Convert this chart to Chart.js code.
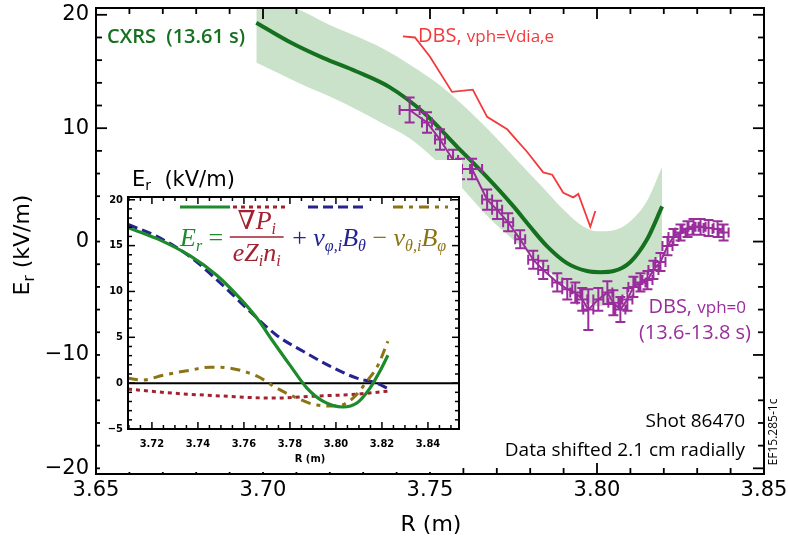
<!DOCTYPE html>
<html>
<head>
<meta charset="utf-8">
<title>Er profile</title>
<script src="https://cdn.jsdelivr.net/npm/chart.js@4.4.1/dist/chart.umd.min.js"></script>
<style>
    html, body { margin: 0; padding: 0; background: #fff; }
    #wrap { position: relative; width: 788px; height: 541px; }
    #main { position: absolute; left: 0; top: 0; }
    #mainTicks { position: absolute; left: 0; top: 0; }
    #inset { position: absolute; left: 100px; top: 160px; background: #fff; }
    #insetTicks { position: absolute; left: 100px; top: 160px; }
</style>
</head>
<body>
<div id="wrap">
    <canvas id="main" width="788" height="541"></canvas>
    <svg id="mainTicks" width="788" height="541" xmlns="http://www.w3.org/2000/svg"></svg>
    <canvas id="inset" width="362" height="312"></canvas>
    <svg id="insetTicks" width="362" height="312" xmlns="http://www.w3.org/2000/svg"></svg>
</div>
<script>
"use strict";

// ---- main panel data: R (m) vs Er (kV/m) ----
var cxrsR  = [3.698, 3.708, 3.718, 3.728, 3.738, 3.748, 3.758, 3.767, 3.775, 3.780, 3.785, 3.791, 3.797, 3.801, 3.805, 3.810, 3.815, 3.8195];
var cxrsEr = [19.3, 17.6, 16.2, 15.0, 13.6, 11.4, 8.4, 5.7, 3.1, 1.3, -0.4, -1.9, -2.6, -2.7, -2.6, -1.8, 0.2, 3.1];

// CXRS uncertainty band
var bandR  = [3.698, 3.705, 3.712, 3.720, 3.728, 3.736, 3.744, 3.752, 3.760, 3.768, 3.776, 3.784, 3.790, 3.796, 3.800, 3.805, 3.810, 3.815, 3.8195];
var bandHi = [22.2, 21.2, 20.3, 19.1, 18.1, 17.0, 15.6, 14.0, 12.0, 9.7, 7.2, 4.7, 2.8, 1.3, 0.9, 1.0, 1.8, 3.6, 6.6];
var bandLo = [15.8, 14.8, 13.8, 12.8, 11.65, 10.4, 9.1, 7.1, 4.6, 2.0, -0.1, -2.2, -3.7, -5.0, -5.7, -5.4, -4.3, -2.8, -0.9];

// DBS with v_ph = V_dia,e
var diaR  = [3.7419, 3.7455, 3.7500, 3.7566, 3.7628, 3.7671, 3.7731, 3.7791, 3.7839, 3.7866, 3.7899, 3.7929, 3.7944, 3.7980, 3.7995];
var diaEr = [18.1, 18.0, 16.3, 13.2, 13.4, 11.0, 9.9, 7.9, 6.1, 5.9, 4.3, 3.9, 4.2, 1.3, 2.7];

// DBS with v_ph = 0, with error bars
var dbsR  = [3.7439, 3.7491, 3.7530, 3.7569, 3.7590, 3.7626, 3.7671, 3.7701, 3.7734, 3.7770, 3.7809, 3.7839,
             3.7881, 3.7911, 3.7935, 3.7956, 3.7974, 3.8004, 3.8031, 3.8049, 3.8070, 3.8091, 3.8109, 3.8130,
             3.8151, 3.8169, 3.8190, 3.8211, 3.8229, 3.8250, 3.8271, 3.8289, 3.8310, 3.8334, 3.8361, 3.8379];
var dbsEr = [11.6, 10.5, 9.0, 7.2, 6.4, 6.4, 3.7, 2.8, 1.7, 0.2, -1.6, -2.5,
             -3.6, -4.2, -4.5, -5.1, -6.0, -5.1, -4.5, -5.4, -6.0, -5.1, -4.0, -3.6,
             -3.4, -2.5, -1.8, -0.4, 0.4, 0.8, 1.1, 1.3, 1.3, 1.2, 1.1, 0.8];
var dbsErrR  = [0.003, 0.0015, 0.0015, 0.0015, 0.003, 0.003, 0.0015, 0.0015, 0.0015, 0.0015, 0.0015, 0.0015,
                0.0015, 0.0015, 0.0015, 0.0015, 0.0015, 0.0015, 0.0015, 0.0015, 0.0015, 0.0015, 0.0015, 0.0015,
                0.0015, 0.0015, 0.0015, 0.0015, 0.0015, 0.0015, 0.0015, 0.0015, 0.0015, 0.0015, 0.0015, 0.0015];
var dbsErrEr = [1.1, 0.9, 0.9, 0.9, 0.9, 0.9, 0.9, 0.8, 0.8, 0.8, 0.8, 0.8,
                0.8, 0.9, 0.9, 1.0, 1.8, 1.0, 1.0, 1.1, 1.1, 1.0, 0.9, 0.8,
                0.8, 0.8, 0.8, 0.8, 0.7, 0.7, 0.7, 0.7, 0.7, 0.7, 0.7, 0.7];

var mainXRange = [3.65, 3.85];
var mainYRange = [-20.5, 20.6];
var mainXTicks = [3.65, 3.70, 3.75, 3.80, 3.85];
var mainYTicks = [-20, -10, 0, 10, 20];

// ---- inset data: Er force balance terms ----
var inErR   = [3.7096, 3.7222, 3.7365, 3.7483, 3.7583, 3.7657, 3.7726, 3.7800, 3.7874, 3.7943, 3.8030, 3.8091, 3.8148, 3.8191, 3.8226];
var inEr    = [16.96, 15.76, 13.9, 11.74, 9.24, 7.07, 4.57, 1.96, -0.54, -1.96, -2.6, -2.17, -0.54, 1.3, 3.04];
var inTorR  = [3.7096, 3.7222, 3.7365, 3.7509, 3.7626, 3.7743, 3.7857, 3.7974, 3.8091, 3.8178, 3.8222];
var inTor   = [17.3, 16.0, 13.8, 10.65, 7.83, 5.2, 3.48, 1.85, 0.54, 0.0, -0.54];
var inPolR  = [3.7096, 3.7160, 3.7248, 3.7365, 3.7452, 3.7539, 3.7657, 3.7743, 3.7830, 3.7917, 3.8004, 3.8074, 3.8135, 3.8183, 3.8226];
var inPol   = [0.54, 0.33, 0.87, 1.41, 1.74, 1.63, 0.76, -0.54, -1.63, -2.39, -2.5, -1.63, 0.22, 1.96, 4.57];
var inDiaR  = [3.7096, 3.7291, 3.7509, 3.7726, 3.7917, 3.8091, 3.8226];
var inDia   = [-0.65, -1.09, -1.41, -1.63, -1.41, -1.2, -0.87];

var insetXRange = [3.7096, 3.8535];
var insetYRange = [-5, 20.3];
var insetXTicks = [3.72, 3.74, 3.76, 3.78, 3.80, 3.82, 3.84];
var insetYTicks = [-5, 0, 5, 10, 15, 20];

// colours
var GREEN = '#15701f', BAND = '#cae2ca', RED = '#f23a3c', PURPLE = '#992d9c';
var IN_GREEN = '#1d8a2b', IN_RED = '#a3222f', IN_BLUE = '#24238f', IN_BROWN = '#8c7416';

var SANS = '"DejaVu Sans", sans-serif';
var LABEL = '"Open Sans", "Lato", sans-serif';
var SERIF = '"Liberation Serif", "DejaVu Serif", serif';

// axis box settings for each panel
var mainFrame = {
    xRange: mainXRange, yRange: mainYRange,
    xTicks: mainXTicks, yTicks: mainYTicks, xMinor: 0.01, yMinor: 2,
    major: 11, minor: 6, frameWidth: 2, tickWidth: 1.8,
    font: '21px ' + SANS, xPad: 6, yPad: 7
};
var insetFrame = {
    xRange: insetXRange, yRange: insetYRange,
    xTicks: insetXTicks, yTicks: insetYTicks, xMinor: 0.005, yMinor: 1,
    major: 7, minor: 4, frameWidth: 2, tickWidth: 1.5,
    font: 'bold 11px "DejaVu Sans Condensed", ' + SANS, xPad: 10, yPad: 5
};

function pts(xs, ys) {
    return xs.map(function (x, i) { return { x: x, y: ys[i] }; });
}

function minus(v) {
    return String(v).replace('-', '\u2212');
}

// minor tick values over a range, flagged when they hit a labelled tick
function tickList(range, step, majors) {
    var list = [];
    var k0 = Math.ceil(range[0] / step - 1e-6);
    var k1 = Math.floor(range[1] / step + 1e-6);
    for (var k = k0; k <= k1; k++) {
        var v = k * step;
        var major = false;
        for (var j = 0; j < majors.length; j++) {
            if (Math.abs(majors[j] - v) < 1e-6) major = true;
        }
        list.push({ v: v, major: major });
    }
    return list;
}

// text runs with sub-scripts: [{text, font, dy}]
function richWidth(ctx, parts) {
    var w = 0;
    parts.forEach(function (p) { ctx.font = p.font; w += ctx.measureText(p.text).width; });
    return w;
}

function drawRich(ctx, x, y, parts, color) {
    ctx.fillStyle = color;
    ctx.textAlign = 'left';
    ctx.textBaseline = 'alphabetic';
    parts.forEach(function (p) {
        ctx.font = p.font;
        ctx.fillText(p.text, x, y + (p.dy || 0));
        x += ctx.measureText(p.text).width;
    });
    return x;
}

// inward tick marks on all four sides, as svg lines over the canvas
function addTickOverlay(chart, o, svgId) {
    var svg = document.getElementById(svgId);
    var a = chart.chartArea, xs = chart.scales.x, ys = chart.scales.y;
    var ns = 'http://www.w3.org/2000/svg';

    function seg(x1, y1, x2, y2) {
        var l = document.createElementNS(ns, 'line');
        l.setAttribute('x1', x1);
        l.setAttribute('y1', y1);
        l.setAttribute('x2', x2);
        l.setAttribute('y2', y2);
        l.setAttribute('stroke', '#000');
        l.setAttribute('stroke-width', o.tickWidth);
        svg.appendChild(l);
    }

    tickList(o.xRange, o.xMinor, o.xTicks).forEach(function (tk) {
        var px = xs.getPixelForValue(tk.v);
        var len = tk.major ? o.major : o.minor;
        seg(px, a.bottom, px, a.bottom - len);
        seg(px, a.top, px, a.top + len);
    });
    tickList(o.yRange, o.yMinor, o.yTicks).forEach(function (tk) {
        var py = ys.getPixelForValue(tk.v);
        var len = tk.major ? o.major : o.minor;
        seg(a.left, py, a.left + len, py);
        seg(a.right, py, a.right - len, py);
    });
}

// box frame and tick labels
function drawFrame(chart, o) {
    var ctx = chart.ctx, a = chart.chartArea, xs = chart.scales.x, ys = chart.scales.y;
    ctx.save();
    ctx.strokeStyle = '#000';
    ctx.lineWidth = o.frameWidth;
    ctx.strokeRect(a.left, a.top, a.right - a.left, a.bottom - a.top);

    ctx.fillStyle = '#000';
    ctx.font = o.font;
    ctx.textAlign = 'center';
    ctx.textBaseline = 'top';
    o.xTicks.forEach(function (v) {
        ctx.fillText(v.toFixed(2), xs.getPixelForValue(v), a.bottom + o.xPad);
    });
    ctx.textAlign = 'right';
    ctx.textBaseline = 'middle';
    o.yTicks.forEach(function (v) {
        ctx.fillText(minus(v), a.left - o.yPad, ys.getPixelForValue(v));
    });
    ctx.restore();
}

var mainDecor = {
    id: 'mainDecor',
    afterDatasetsDraw: function (chart) {
        // DBS error bars
        var ctx = chart.ctx, xs = chart.scales.x, ys = chart.scales.y;
        ctx.save();
        ctx.strokeStyle = PURPLE;
        ctx.lineWidth = 2;
        ctx.beginPath();
        dbsR.forEach(function (r, i) {
            var px = xs.getPixelForValue(r), py = ys.getPixelForValue(dbsEr[i]);
            var x0 = xs.getPixelForValue(r - dbsErrR[i]), x1 = xs.getPixelForValue(r + dbsErrR[i]);
            var y0 = ys.getPixelForValue(dbsEr[i] - dbsErrEr[i]), y1 = ys.getPixelForValue(dbsEr[i] + dbsErrEr[i]);
            ctx.moveTo(px, y0); ctx.lineTo(px, y1);
            ctx.moveTo(px - 5, y0); ctx.lineTo(px + 5, y0);
            ctx.moveTo(px - 5, y1); ctx.lineTo(px + 5, y1);
            ctx.moveTo(x0, py); ctx.lineTo(x1, py);
            ctx.moveTo(x0, py - 5); ctx.lineTo(x0, py + 5);
            ctx.moveTo(x1, py - 5); ctx.lineTo(x1, py + 5);
        });
        ctx.stroke();
        ctx.restore();
    },
    afterDraw: function (chart) {
        var ctx = chart.ctx;
        drawFrame(chart, mainFrame);

        ctx.save();
        // axis titles
        ctx.fillStyle = '#000';
        ctx.font = '22px ' + SANS;
        ctx.textAlign = 'center';
        ctx.textBaseline = 'alphabetic';
        ctx.fillText('R (m)', 431, 531);

        var yTitle = [
            { text: 'E', font: '22px ' + SANS },
            { text: 'r', font: '15px ' + SANS, dy: 5 },
            { text: ' (kV/m)', font: '22px ' + SANS }
        ];
        ctx.save();
        ctx.translate(29, 245);
        ctx.rotate(-Math.PI / 2);
        drawRich(ctx, -richWidth(ctx, yTitle) / 2, 0, yTitle, '#000');
        ctx.restore();

        // series labels
        ctx.font = '600 20px ' + LABEL;
        ctx.fillStyle = GREEN;
        ctx.textAlign = 'left';
        ctx.fillText('CXRS  (13.61 s)', 107, 43);

        drawRich(ctx, 418, 42, [
            { text: 'DBS, ', font: '20px ' + LABEL },
            { text: 'vph=Vdia,e', font: '17px ' + LABEL }
        ], RED);

        var dbsLine = [
            { text: 'DBS, ', font: '20px ' + LABEL },
            { text: 'vph=0', font: '17px ' + LABEL }
        ];
        drawRich(ctx, 746 - richWidth(ctx, dbsLine), 313, dbsLine, PURPLE);
        ctx.font = '20px ' + LABEL;
        ctx.fillStyle = PURPLE;
        ctx.textAlign = 'right';
        ctx.fillText('(13.6-13.8 s)', 751, 339);

        ctx.fillStyle = '#000';
        ctx.font = '19px ' + LABEL;
        ctx.fillText('Shot 86470', 745, 427);
        ctx.fillText('Data shifted 2.1 cm radially', 745, 456);

        ctx.save();
        ctx.translate(777, 432);
        ctx.rotate(-Math.PI / 2);
        ctx.font = '12px ' + LABEL;
        ctx.textAlign = 'center';
        ctx.fillText('EF15.285-1c', 0, 0);
        ctx.restore();
        ctx.restore();
    }
};

var insetDecor = {
    id: 'insetDecor',
    afterDraw: function (chart) {
        var ctx = chart.ctx;
        drawFrame(chart, insetFrame);

        ctx.save();
        ctx.fillStyle = '#000';
        ctx.font = 'bold 11px "DejaVu Sans Condensed", ' + SANS;
        ctx.textAlign = 'center';
        ctx.fillText('R (m)', 210, 302);

        drawRich(ctx, 32, 26, [
            { text: 'E', font: '21px ' + SANS },
            { text: 'r', font: '14px ' + SANS, dy: 4 },
            { text: '  (kV/m)', font: '21px ' + SANS }
        ], '#000');

        // legend samples
        var samples = [
            { x0: 80, x1: 130, color: IN_GREEN, dash: [] },
            { x0: 133, x1: 187, color: IN_RED, dash: [4, 4] },
            { x0: 208, x1: 263, color: IN_BLUE, dash: [10, 5] },
            { x0: 293, x1: 348, color: IN_BROWN, dash: [10, 6, 4, 6] }
        ];
        ctx.lineWidth = 3;
        samples.forEach(function (s) {
            ctx.strokeStyle = s.color;
            ctx.setLineDash(s.dash);
            ctx.beginPath();
            ctx.moveTo(s.x0, 47);
            ctx.lineTo(s.x1, 47);
            ctx.stroke();
        });
        ctx.setLineDash([]);

        // Er = grad P / (e Z n) + v_phi B_theta - v_theta B_phi
        var it = 'italic 26px ' + SERIF, up = '26px ' + SERIF, sub = 'italic 16px ' + SERIF;
        var base = 86;
        var x = drawRich(ctx, 80, base, [
            { text: 'E', font: it },
            { text: 'r', font: sub, dy: 5 },
            { text: ' = ', font: up }
        ], IN_GREEN);

        var num = [{ text: '\u2207', font: up }, { text: 'P', font: it }, { text: 'i', font: sub, dy: 5 }];
        var den = [{ text: 'eZ', font: it }, { text: 'i', font: sub, dy: 5 }, { text: 'n', font: it }, { text: 'i', font: sub, dy: 5 }];
        var wn = richWidth(ctx, num), wd = richWidth(ctx, den), w = Math.max(wn, wd) + 6;
        drawRich(ctx, x + (w - wn) / 2, base - 17, num, IN_RED);
        drawRich(ctx, x + (w - wd) / 2, base + 15, den, IN_RED);
        ctx.strokeStyle = IN_RED;
        ctx.lineWidth = 1.4;
        ctx.beginPath();
        ctx.moveTo(x, base - 9);
        ctx.lineTo(x + w, base - 9);
        ctx.stroke();
        x += w + 2;

        x = drawRich(ctx, x, base, [
            { text: ' + ', font: up },
            { text: 'v', font: it },
            { text: '\u03c6,i', font: sub, dy: 5 },
            { text: 'B', font: it },
            { text: '\u03b8', font: sub, dy: 5 }
        ], IN_BLUE);
        drawRich(ctx, x, base, [
            { text: ' \u2212 ', font: up },
            { text: 'v', font: it },
            { text: '\u03b8,i', font: sub, dy: 5 },
            { text: 'B', font: it },
            { text: '\u03c6', font: sub, dy: 5 }
        ], IN_BROWN);
        ctx.restore();
    }
};

function lineSet(xs, ys, color, width, dash, order, smooth) {
    return {
        data: pts(xs, ys),
        borderColor: color,
        borderWidth: width,
        borderDash: dash,
        borderCapStyle: 'butt',
        pointRadius: 0,
        fill: false,
        cubicInterpolationMode: smooth ? 'monotone' : 'default',
        tension: smooth ? 0.4 : 0,
        order: order
    };
}

function baseOptions(xRange, yRange, padding) {
    return {
        responsive: false,
        animation: false,
        devicePixelRatio: 1,
        events: [],
        layout: { padding: padding },
        plugins: { legend: { display: false }, tooltip: { enabled: false } },
        scales: {
            x: { type: 'linear', min: xRange[0], max: xRange[1], display: false },
            y: { type: 'linear', min: yRange[0], max: yRange[1], display: false }
        }
    };
}

var bandUpper = lineSet(bandR, bandHi, 'rgba(0,0,0,0)', 0, [], 5, true);
bandUpper.fill = '+1';
bandUpper.backgroundColor = BAND;
var bandLower = lineSet(bandR, bandLo, 'rgba(0,0,0,0)', 0, [], 6, true);

var mainChart = new Chart(document.getElementById('main'), {
    type: 'line',
    data: {
        datasets: [
            lineSet(dbsR, dbsEr, PURPLE, 2, [], 1, false),
            lineSet(cxrsR, cxrsEr, GREEN, 4, [], 2, true),
            lineSet(diaR, diaEr, RED, 1.8, [], 3, false),
            bandUpper,
            bandLower
        ]
    },
    options: baseOptions(mainXRange, mainYRange, { left: 96, right: 24, top: 8, bottom: 67 }),
    plugins: [mainDecor]
});

var insetChart = new Chart(document.getElementById('inset'), {
    type: 'line',
    data: {
        datasets: [
            lineSet(inErR, inEr, IN_GREEN, 3.2, [], 1, true),
            lineSet(inPolR, inPol, IN_BROWN, 3, [10, 6, 4, 6], 2, true),
            lineSet(inTorR, inTor, IN_BLUE, 3, [10, 5], 3, true),
            lineSet(inDiaR, inDia, IN_RED, 3, [4, 4], 4, true),
            lineSet(insetXRange, [0, 0], '#000', 2, [], 5, false)
        ]
    },
    options: baseOptions(insetXRange, insetYRange, { left: 28, right: 3, top: 37, bottom: 43 }),
    plugins: [insetDecor]
});

addTickOverlay(mainChart, mainFrame, 'mainTicks');
addTickOverlay(insetChart, insetFrame, 'insetTicks');
</script>
</body>
</html>
